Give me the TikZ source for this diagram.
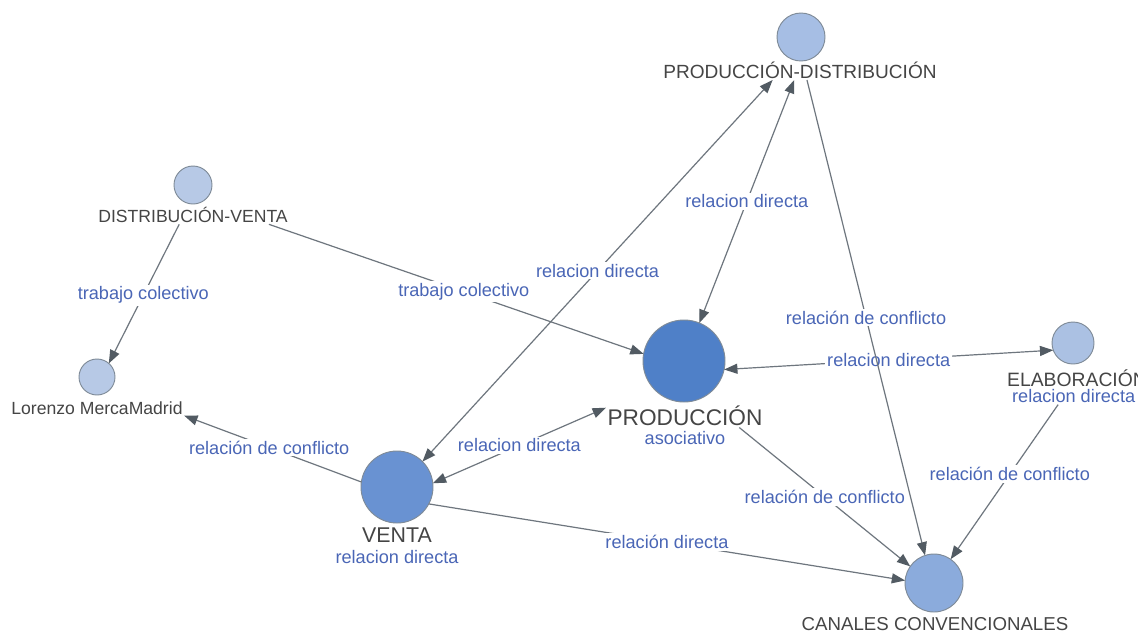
\documentclass[tikz,border=0pt]{standalone}
\usepackage{fontspec}
\setmainfont{Liberation Sans}
\usepackage{xcolor}
\definecolor{netline}{HTML}{6E767E}
\definecolor{nettip}{HTML}{525B63}
\definecolor{netedge}{HTML}{7F8B98}
\definecolor{nettext}{HTML}{454545}
\definecolor{netblue}{HTML}{4A66B6}
\definecolor{fillpale}{HTML}{B7C9E6}
\definecolor{fillpd}{HTML}{A6BEE4}
\definecolor{fillelab}{HTML}{ABC1E3}
\definecolor{fillcc}{HTML}{8BABDC}
\definecolor{fillventa}{HTML}{6992D2}
\definecolor{fillprod}{HTML}{4F80C8}
\usepackage{tikz}
\usetikzlibrary{arrows.meta,positioning}
\tikzset{
  netnode/.style={circle,draw=netedge,line width=0.7pt,inner sep=0pt,outer sep=0pt},
  nettxt/.style={text=nettext,inner sep=1pt},
  netsub/.style={text=netblue,inner sep=1pt,font=\fontsize{13.6}{16}\selectfont},
  netflow/.style={draw=netline,line width=0.9pt,-{Triangle[length=10pt,width=7.5pt,color=nettip]}},
  netboth/.style={draw=netline,line width=0.9pt,{Triangle[length=10pt,width=7.5pt,color=nettip]}-{Triangle[length=10pt,width=7.5pt,color=nettip]}},
  netlabel/.style={text=netblue,fill=white,inner sep=1.5pt,font=\fontsize{13.6}{16}\selectfont},
}

\begin{document}
\begin{tikzpicture}[x=0.75pt,y=-0.75pt]
\path[use as bounding box,fill=white] (0,0) rectangle (1138,633);
 % actors
\node[netnode,fill=fillpd,minimum size=36pt] (pd) at (801,37) {};
\node[nettxt,font=\fontsize{14.3}{17}\selectfont] (pdtxt) at (800,70) {PRODUCCIÓN-DISTRIBUCIÓN};
\node[netnode,fill=fillpale,minimum size=28.5pt] (dv) at (193,185) {};
\node[nettxt,font=\fontsize{13.2}{16}\selectfont] (dvtxt) at (193,215) {DISTRIBUCIÓN-VENTA};
\node[netnode,fill=fillpale,minimum size=27pt] (lm) at (97,377) {};
\node[nettxt,font=\fontsize{13.2}{16}\selectfont] (lmtxt) at (97,408) {Lorenzo MercaMadrid};
\node[netnode,fill=fillprod,minimum size=61.5pt] (prod) at (684,361) {};
\node[nettxt,font=\fontsize{17}{20}\selectfont] (prodtxt) at (685,416) {PRODUCCIÓN};
\node[netsub,below=2pt of prodtxt] (prodsub) {asociativo};
\node[netnode,fill=fillventa,minimum size=54pt] (venta) at (397,487) {};
\node[nettxt,font=\fontsize{16}{19}\selectfont] (ventatxt) at (397,535) {VENTA};
\node[netsub,below=3.5pt of ventatxt] (ventasub) {relacion directa};
\node[netnode,fill=fillelab,minimum size=31.5pt] (elab) at (1073,343) {};
\node[nettxt,font=\fontsize{14.5}{17}\selectfont] (elabtxt) at (1077,378) {ELABORACIÓN};
\node[netsub,below=0pt of elabtxt,xshift=-2.5pt] (elabsub) {relacion directa};
\node[netnode,fill=fillcc,minimum size=43.5pt] (cc) at (934,583) {};
\node[nettxt,font=\fontsize{14}{17}\selectfont] (cctxt) at (935,624) {CANALES CONVENCIONALES};
 % relations
\draw[netflow] (dvtxt.214) -- node[netlabel,pos=.51]{trabajo colectivo} (lm.49);
\draw[netflow] (dvtxt.-7) -- node[netlabel,pos=.52]{trabajo colectivo} (prod.170);
\draw[netflow] (venta.172) -- node[netlabel,pos=.52]{relación de conflicto} (lmtxt.-5);
\draw[netboth] (venta.45) -- node[netlabel]{relacion directa} (pdtxt.200);
\draw[netboth] (prod.68) -- node[netlabel]{relacion directa} (pdtxt.240);
\draw[netboth] (prod.-12) -- node[netlabel]{relacion directa} (elab.200);
\draw[netboth] (venta.6) -- node[netlabel]{relacion directa} (prodtxt.174);
\draw[netflow] (prodtxt.-12) -- node[netlabel]{relación de conflicto} (cc.145);
\draw[netflow] (elabsub.208) -- node[netlabel,pos=.45]{relación de conflicto} (cc.55);
\draw[netflow] (venta.-28) -- node[netlabel]{relación directa} (cc.175);
\draw[netflow] (pdtxt.-55) -- node[netlabel]{relación de conflicto} (cc.108);
\end{tikzpicture}
\end{document}
